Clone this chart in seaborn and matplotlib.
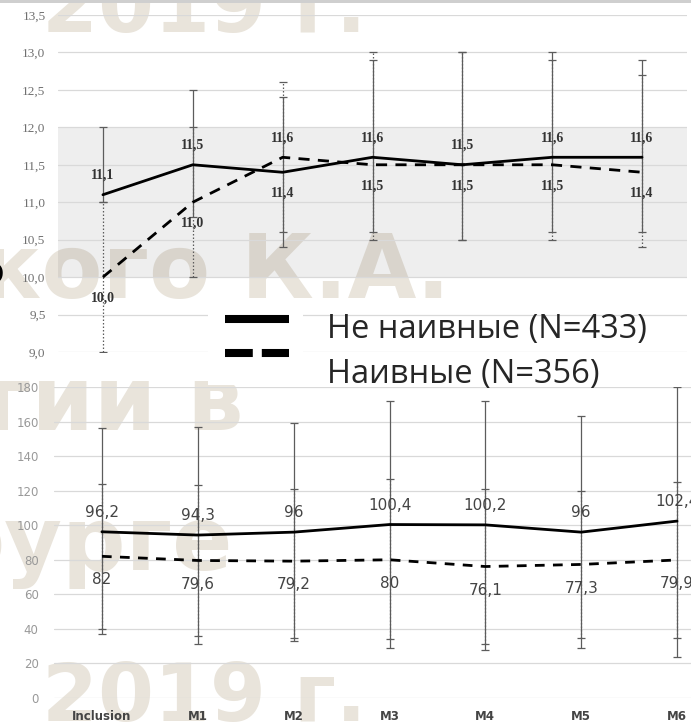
import numpy as np
import pandas as pd
import matplotlib.pyplot as plt
import seaborn as sns
from matplotlib.lines import Line2D
from matplotlib.patches import Rectangle

# ------------------------------------------
# Data
# ------------------------------------------
visits = ['Inclusion', 'M1', 'M2', 'M3', 'M4', 'M5', 'M6']
groups = ['Не наивные (N=433)', 'Наивные (N=356)']

# upper panel
top_solid = [11.1, 11.5, 11.4, 11.6, 11.5, 11.6, 11.6]
top_dash = [10.0, 11.0, 11.6, 11.5, 11.5, 11.5, 11.4]
top_solid_lo = [11.0, 10.8, 10.4, 10.6, 10.5, 10.6, 10.6]
top_solid_hi = [12.0, 12.5, 12.4, 12.9, 13.0, 13.0, 12.9]
top_dash_lo = [9.0, 10.0, 10.6, 10.5, 10.5, 10.5, 10.4]
top_dash_hi = [11.0, 12.0, 12.6, 13.0, 13.0, 12.9, 12.7]
top_ticks = [9.0, 9.5, 10.0, 10.5, 11.0, 11.5, 12.0, 12.5, 13.0, 13.5]

# lower panel
bot_solid = [96.2, 94.3, 96, 100.4, 100.2, 96, 102.4]
bot_dash = [82, 79.6, 79.2, 80, 76.1, 77.3, 79.9]
bot_solid_lo = [37, 31, 33, 29, 28, 29, 24]
bot_solid_hi = [156, 157, 159, 172, 172, 163, 180]
bot_dash_lo = [40, 36, 35, 34, 31, 35, 35]
bot_dash_hi = [124, 123, 121, 127, 121, 120, 125]
bot_ticks = [0, 20, 40, 60, 80, 100, 120, 140, 160, 180]

# watermark fragments
wm_texts = ['2019 г.', 'кого К.А.', 'гии в', 'бурге', '2019 г.']

sns.set_style('white')
plt.rcParams['font.family'] = ['DejaVu Sans']

W, H = 691, 724
fig = plt.figure(figsize=(W / 100, H / 100), dpi=100)


def fx(px):
    return px / W


def fy(py):
    return 1 - py / H


ax_top = fig.add_axes([fx(58), fy(352), (687 - 58) / W, (352 - 15) / H])
ax_bot = fig.add_axes([fx(54), fy(698), (725 - 54) / W, (698 - 387) / H])


def draw_panel(ax, solid, dash, s_lo, s_hi, d_lo, d_hi, fmt, lw, dash_pat,
               off_up, off_dn, lab_kw):
    x = np.arange(len(visits))
    df = pd.DataFrame({
        'x': np.tile(x, 2),
        'value': list(solid) + list(dash),
        'group': np.repeat(groups, len(visits)),
    })
    # error bars: dashed group dotted, solid group on top
    for vals, lo, hi, ls in [(dash, d_lo, d_hi, (0, (1.2, 1.6))),
                             (solid, s_lo, s_hi, '-')]:
        yerr = [np.subtract(vals, lo), np.subtract(hi, vals)]
        eb = ax.errorbar(x, vals, yerr=yerr, fmt='none', ecolor='#5c5c5c',
                         elinewidth=0.9, capsize=3, capthick=0.9, zorder=2)
        eb[2][0].set_linestyle(ls)
    sns.lineplot(data=df, x='x', y='value', hue='group', style='group',
                 palette=['black', 'black'],
                 dashes={groups[0]: '', groups[1]: dash_pat},
                 linewidth=lw, errorbar=None, legend=False, ax=ax, zorder=3)
    # value labels
    for i in x:
        s_up = solid[i] >= dash[i]
        for v, up in [(solid[i], s_up), (dash[i], not s_up)]:
            ax.annotate(fmt(v), (i, v), xytext=(0, off_up if up else -off_dn),
                        textcoords='offset points', ha='center', va='center',
                        zorder=4, **lab_kw)
    ax.set_xlim(-0.5, len(visits) - 0.5)
    ax.set_xlabel('')
    ax.set_ylabel('')


draw_panel(ax_top, top_solid, top_dash, top_solid_lo, top_solid_hi,
           top_dash_lo, top_dash_hi,
           lambda v: f'{v:.1f}'.replace('.', ','), 2.0, (4, 3), 14, 15,
           dict(fontsize=10, family='Liberation Serif', weight='bold',
                color='#333333'))
draw_panel(ax_bot, bot_solid, bot_dash, bot_solid_lo, bot_solid_hi,
           bot_dash_lo, bot_dash_hi,
           lambda v: f'{v:g}'.replace('.', ','), 2.0, (3.5, 3), 14, 17,
           dict(fontsize=11, color='#444444'))

# shaded band in the upper panel
ax_top.axhspan(10.0, 12.0, color='black', alpha=0.065, lw=0, zorder=0.4)

for ax in (ax_top, ax_bot):
    ax.set_facecolor('none')
    sns.despine(ax=ax, left=True, bottom=True)
    ax.yaxis.grid(True, color='#d9d9d9', lw=0.9)
    ax.set_axisbelow(True)
    ax.tick_params(length=0)

ax_top.set_ylim(top_ticks[0], top_ticks[-1])
ax_top.set_yticks(top_ticks, [f'{t:.1f}'.replace('.', ',') for t in top_ticks])
ax_top.set_xticks([])
ax_top.tick_params(axis='y', pad=9, labelsize=9.5, labelcolor='#707070')
for t in ax_top.get_yticklabels():
    t.set_family('Liberation Serif')

ax_bot.set_ylim(bot_ticks[0], bot_ticks[-1])
ax_bot.set_yticks(bot_ticks, [str(t) for t in bot_ticks])
ax_bot.tick_params(axis='y', pad=11, labelsize=8.5, labelcolor='#999999')
ax_bot.set_xticks(np.arange(len(visits)), visits)
ax_bot.tick_params(axis='x', pad=9, labelsize=8.5, labelcolor='#444444')
for t in ax_bot.get_xticklabels():
    t.set_weight('bold')

# legend drawn by hand in figure space
fig.add_artist(Rectangle((fx(208), fy(385)), (303 - 208) / W, (385 - 305) / H,
                         transform=fig.transFigure, facecolor='white',
                         edgecolor='none', zorder=1))
fig.add_artist(Line2D([fx(225), fx(289)], [fy(319), fy(319)], lw=5.8,
                      color='black', solid_capstyle='butt', zorder=2))
fig.add_artist(Line2D([fx(225), fx(289)], [fy(353), fy(353)], lw=5.8,
                      color='black', linestyle=(0, (3.45, 1.12)),
                      dash_capstyle='butt', zorder=2))
fig.text(fx(327), fy(338), groups[0], fontsize=23.5, family='Open Sans',
         va='baseline', zorder=3)
fig.text(fx(327), fy(383), groups[1], fontsize=23.5, family='Open Sans',
         va='baseline', zorder=3)

# faded watermark behind the plot
wm_kw = dict(weight='bold', family='DejaVu Sans', color='#e9e4db',
             va='baseline', ha='left', zorder=-1)
fig.text(fx(42), fy(32), wm_texts[0], fontsize=58, **wm_kw)
fig.text(fx(-19), fy(298), wm_texts[1], fontsize=64, **wm_kw)
fig.text(fx(-15), fy(430), wm_texts[2], fontsize=64, **wm_kw)
fig.text(fx(-58), fy(570), wm_texts[3], fontsize=64, **wm_kw)
fig.text(fx(42), fy(721), wm_texts[4], fontsize=58, **wm_kw)

# stray black glyph at the left edge and page border at the top
fig.text(fx(5), fy(283), 'о', fontsize=26, family='Open Sans', ha='right',
         va='baseline', color='black', zorder=3)
fig.add_artist(Rectangle((0, fy(3)), 1, 3 / H, transform=fig.transFigure,
                         facecolor='#cfcfcf', edgecolor='none', zorder=5))

fig.savefig('out.png', dpi=100)
